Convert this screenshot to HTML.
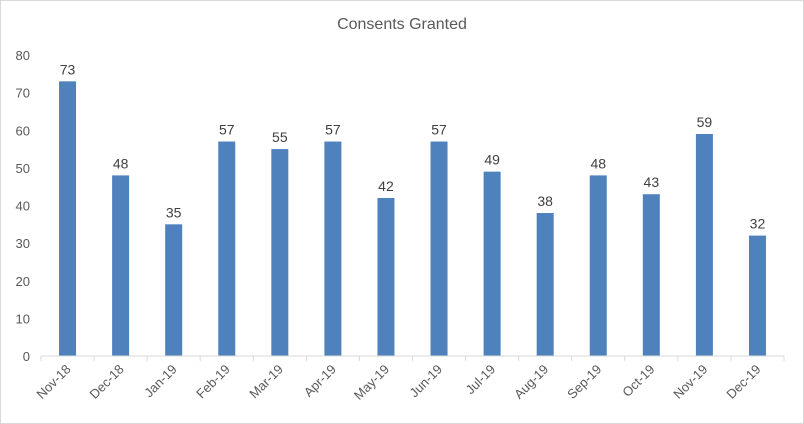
<!DOCTYPE html>
<html><head><meta charset="utf-8"><style>
body{margin:0;background:#fff;}
svg{display:block;font-family:"Liberation Sans",sans-serif;}
</style></head><body>
<svg id="chart" width="804" height="424">
<rect x="0.5" y="0.5" width="803" height="423" fill="#fff" stroke="#d9d9d9"/>
<text x="402" y="29" text-anchor="middle" font-size="16" fill="#595959">Consents Granted</text>
<g id="yaxis"></g><g id="bars"></g><g id="xaxis"></g>
</svg>
<script>
const categories=["Nov-18","Dec-18","Jan-19","Feb-19","Mar-19","Apr-19","May-19","Jun-19","Jul-19","Aug-19","Sep-19","Oct-19","Nov-19","Dec-19"];
const values=[73,48,35,57,55,57,42,57,49,38,48,43,59,32];
const yTicks=[0,10,20,30,40,50,60,70,80];
const NS="http://www.w3.org/2000/svg";
const left=41,right=784,y0=356,yTop=55,yMax=80;
const band=(right-left)/categories.length,barW=17;
const y=v=>y0-(v/yMax)*(y0-yTop);
const xc=i=>left+band*(i+0.5);
function mk(tag,attrs,parent,txt){const e=document.createElementNS(NS,tag);for(const k in attrs)e.setAttribute(k,attrs[k]);if(txt!==undefined)e.textContent=txt;parent.appendChild(e);return e;}
const ya=document.getElementById('yaxis'),bg=document.getElementById('bars'),xa=document.getElementById('xaxis');
yTicks.forEach(t=>{const e=mk('text',{x:30,y:y(t)+5,'text-anchor':'end','font-size':13,fill:'#595959'},ya,t);

});
categories.forEach((c,i)=>{
const v=values[i];
const r=mk('rect',{x:xc(i)-barW/2,y:y(v),width:barW,height:y0-y(v),fill:'#4f81bd'},bg);


const l=mk('text',{x:xc(i),y:y(v)-7,'text-anchor':'middle','font-size':14,fill:'#404040'},bg,v);


const tk=mk('line',{x1:left+band*i,x2:left+band*i,y1:y0,y2:y0+5,stroke:'#d9d9d9'},xa);


const tx=xc(i)+4,ty=y0+14;
const xl=mk('text',{x:tx,y:ty,'text-anchor':'end','font-size':13,fill:'#595959',transform:`rotate(-45 ${tx} ${ty})`},xa,c);


});
const lt=mk('line',{x1:right,x2:right,y1:y0,y2:y0+5,stroke:'#d9d9d9'},xa);


const ax=mk('line',{x1:left,x2:right,y1:y0,y2:y0,stroke:'#d9d9d9'},xa);


</script>
</body></html>
